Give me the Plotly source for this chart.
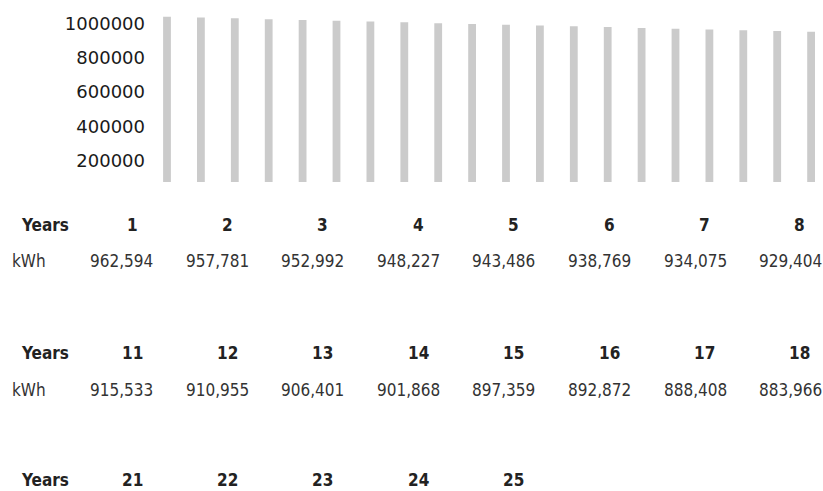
import plotly.graph_objects as go

# ---- data ----
bar_years = list(range(1, 21))
bar_kwh = [962594, 957781, 952992, 948227, 943486, 938769, 934075, 929404,
           924760, 920130, 915533, 910955, 906401, 901868, 897359, 892872,
           888408, 883966, 879500, 875000]

y_tickvals = [200000, 400000, 600000, 800000, 1000000]
y_ticktext = ["200000", "400000", "600000", "800000", "1000000"]

table_years_1 = ["1", "2", "3", "4", "5", "6", "7", "8"]
table_kwh_1 = ["962,594", "957,781", "952,992", "948,227", "943,486", "938,769", "934,075", "929,404"]
table_years_2 = ["11", "12", "13", "14", "15", "16", "17", "18"]
table_kwh_2 = ["915,533", "910,955", "906,401", "901,868", "897,359", "892,872", "888,408", "883,966"]
table_years_3 = ["21", "22", "23", "24", "25"]

# ---- layout constants ----
W, H = 823, 491
base_px = 182.0
px_per_unit = 34.35 / 200000
top_px = 1.0
y_top_val = (base_px - top_px) / px_per_unit

x_left_px = 146.0
first_bar_px = 167.0
bar_step_px = 33.9
x_lo = 1 - (first_bar_px - x_left_px) / bar_step_px
x_hi = 1 + (W - first_bar_px) / bar_step_px

fig = go.Figure()
fig.add_trace(go.Bar(
    x=bar_years, y=bar_kwh, width=0.23,
    marker=dict(color="#cbcbcb", line=dict(width=0)),
    hoverinfo="x+y", showlegend=False,
))

annotations = []
def px_x(p):
    return p / W
def px_y(p):
    return 1 - p / H

cond = "DejaVu Sans Condensed, DejaVu Sans, sans-serif"
hdr_font = dict(family=cond, size=17, color="#222222", weight="bold")
val_font = dict(family=cond, size=17, color="#333333")

def add_row(labels, y, x0, step, font):
    for i, t in enumerate(labels):
        annotations.append(dict(text=t, x=px_x(x0 + i * step), y=px_y(y),
                                xref="paper", yref="paper", showarrow=False,
                                xanchor="center", yanchor="middle", font=font))

for hy, ky, yrs, vals in [(225, 261, table_years_1, table_kwh_1),
                          (353, 390, table_years_2, table_kwh_2)]:
    annotations.append(dict(text="Years", x=px_x(45), y=px_y(hy), xref="paper", yref="paper",
                            showarrow=False, xanchor="center", yanchor="middle", font=hdr_font))
    annotations.append(dict(text="kWh", x=px_x(10), y=px_y(ky), xref="paper", yref="paper",
                            showarrow=False, xanchor="left", yanchor="middle", font=val_font))
    add_row(yrs, hy, 132, 95.4, hdr_font)
    add_row(vals, ky, 121.5, 95.6, val_font)

row3_y = 480
annotations.append(dict(text="Years", x=px_x(45), y=px_y(row3_y), xref="paper", yref="paper",
                        showarrow=False, xanchor="center", yanchor="middle", font=hdr_font))
add_row(table_years_3, row3_y, 132, 95.4, hdr_font)

fig.update_layout(
    width=W, height=H,
    margin=dict(l=0, r=0, t=0, b=0),
    paper_bgcolor="white", plot_bgcolor="white",
    xaxis=dict(domain=[x_left_px / W, 1], range=[x_lo, x_hi], showticklabels=False,
               showgrid=False, zeroline=False, showline=False, ticks=""),
    yaxis=dict(domain=[1 - base_px / H, 1 - top_px / H], range=[0, y_top_val],
               tickvals=y_tickvals, ticktext=y_ticktext, ticklabelshift=13,
               tickfont=dict(family="DejaVu Sans, sans-serif", size=18, color="#1a1a1a"),
               showgrid=False, zeroline=False, showline=False, ticks=""),
    annotations=annotations,
    bargap=0.8,
)

fig.write_html("out.html")
